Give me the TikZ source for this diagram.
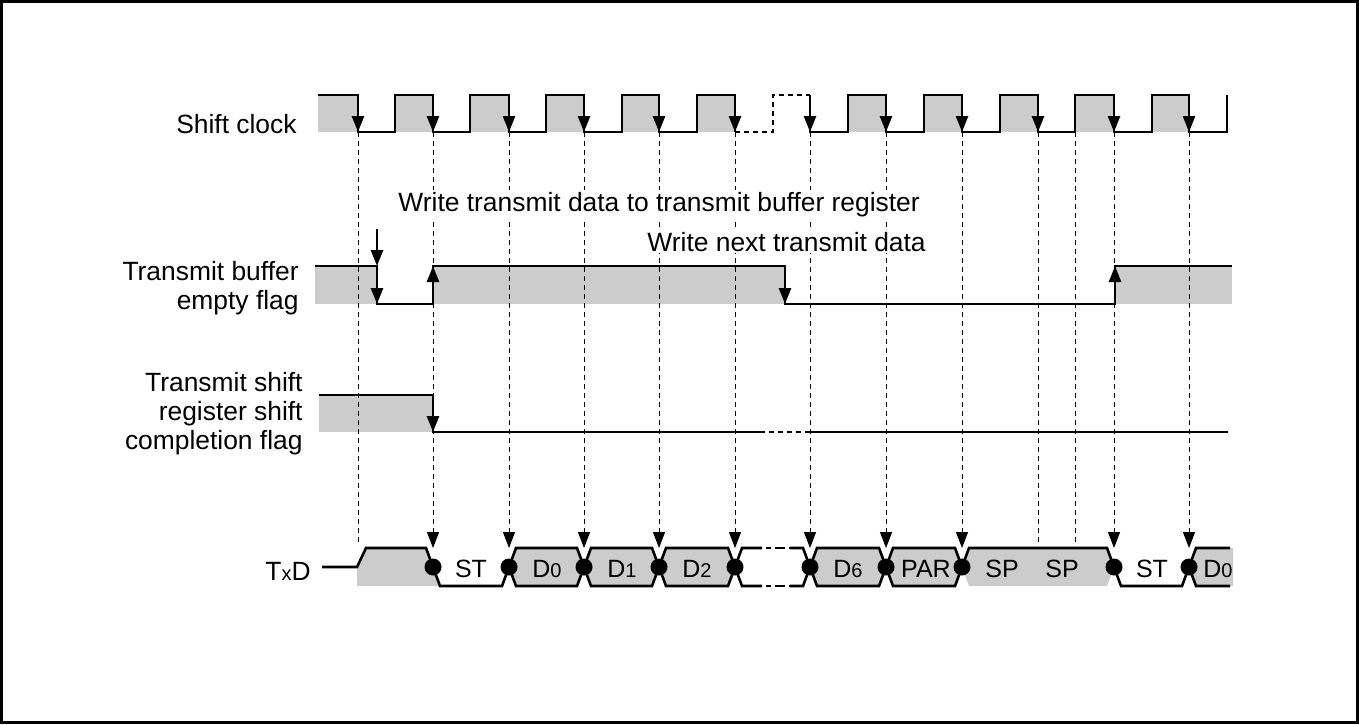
\documentclass[tikz,border=0pt]{standalone}
\usepackage{fontspec}
\setmainfont{Liberation Sans}
\usepackage{xcolor}
\definecolor{sigFill}{gray}{0.80}
\usepackage{tikz}
\usetikzlibrary{arrows.meta}
\newcommand{\bitno}[1]{{\fontsize{10}{12}\selectfont #1}}

\begin{document}
\begin{tikzpicture}[x=0.5pt, y=-0.5pt, >={Triangle[width=6pt,length=8pt]},
  sig/.style={line width=1.3pt},
  brk/.style={line width=1.3pt, dash pattern=on 2.5pt off 2pt},
  guide/.style={line width=0.5pt, dash pattern=on 2.5pt off 2pt},
  lbl/.style={font=\fontsize{13.2}{14.5}\selectfont, align=right, inner sep=0pt},
  note/.style={font=\fontsize{13.2}{14.5}\selectfont, fill=white, inner sep=1pt, anchor=base west},
  bitlbl/.style={font=\fontsize{12.5}{14}\selectfont, inner sep=0pt, anchor=base}]
  \useasboundingbox (0,0) rectangle (1359,724);
  \draw[line width=1.5pt] (1.5,1.5) rectangle (1357.5,722.5);

  % ---- gray levels ----
  \foreach \r/\f in {318/358,395/433,470/509,546/584,622/659,697/735,848/886,924/962,1000/1038,1075/1114,1152/1189}
    \fill[sigFill] (\r,95) rectangle (\f,132);
  \fill[sigFill] (315,266) rectangle (377,304);
  \fill[sigFill] (433,266) rectangle (785,304);
  \fill[sigFill] (1115,266) rectangle (1232,304);
  \fill[sigFill] (319,395) rectangle (433,432);
  \fill[sigFill] (357,586) -- (357,567) -- (366,548) -- (426,548) -- (440,586) -- cycle;
  \foreach \ba/\en in {509/584,584/659,659/735,810/886,886/962}
    \fill[sigFill] (\ba,567) -- (\ba+7,548) -- (\en-7,548) -- (\en,567) -- (\en-7,586) -- (\ba+7,586) -- cycle;
  \fill[sigFill] (962,567) -- (969,548) -- (1107,548) -- (1114,567) -- (1107,586) -- (969,586) -- cycle;
  \fill[sigFill] (1189,567) -- (1196,548) -- (1233,548) -- (1233,586) -- (1196,586) -- cycle;

  % ---- timing guides ----
  \foreach \x in {433,509,584,659,735,810,886,962,1114,1189}
    \draw[guide,->] (\x,132) -- (\x,548);
  \foreach \x in {358,1038,1075}
    \draw[guide] (\x,132) -- (\x,545);

  % ---- shift clock ----
  \draw[sig] (318,95) -| (358,132) -| (395,95) -| (433,132) -| (470,95) -| (509,132) -| (546,95)
    -| (584,132) -| (622,95) -| (659,132) -| (697,95) -| (735,132);
  \draw[brk] (735,132) -| (773,95) -- (810,95);
  \draw[sig] (810,95) -- (810,132) -| (848,95) -| (886,132) -| (924,95) -| (962,132) -| (1000,95)
    -| (1038,132) -| (1075,95) -| (1114,132) -| (1152,95) -| (1189,132) -| (1227,95);
  \foreach \f in {358,433,509,584,659,735,810,886,962,1038,1114,1189}
    \draw[sig,->] (\f,95) -- (\f,132);

  % ---- transmit buffer empty flag ----
  \draw[sig] (315,266) -| (377,304) -| (433,266) -| (785,304) -| (1115,266) -- (1232,266);
  \foreach \x/\ya/\yb in {377/266/304, 433/304/266, 785/266/304, 1115/304/266}
    \draw[sig,->] (\x,\ya) -- (\x,\yb);
  \draw[sig,->] (377,229) -- (377,266);

  % ---- transmit shift register shift completion flag ----
  \draw[sig] (319,395) -| (433,432) -- (760,432);
  \draw[sig,->] (433,395) -- (433,432);
  \draw[brk] (760,432) -- (805,432);
  \draw[sig] (805,432) -- (1228,432);

  % ---- TxD ----
  \draw[sig] (322,567) -- (357,567) -- (366,548) -- (426,548) -- (440,586) -- (502,586) -- (509,567);
  \foreach \ba/\en in {509/584,584/659,659/735,810/886,886/962}
    \draw[sig] (\ba,567) -- (\ba+7,548) -- (\en-7,548) -- (\en,567) -- (\en-7,586) -- (\ba+7,586) -- cycle;
  \foreach \y in {548,586} {
    \draw[sig] (762,\y) -- (742,\y) -- (735,567);
    \draw[sig] (790,\y) -- (803,\y) -- (810,567);
    \draw[sig, dash pattern=on 0pt off 2pt on 2.5pt off 2pt on 5pt off 2pt on 1pt] (762,\y) -- (790,\y);
  }
  \draw[sig] (962,567) -- (969,548) -- (1107,548) -- (1121,586) -- (1182,586) -- (1189,567);
  \draw[sig] (1230,548) -- (1196,548) -- (1189,567) -- (1196,586) -- (1230,586);
  \foreach \x in {433,509,584,659,735,810,886,962,1114,1189}
    \fill (\x,567) circle (8.5);

  % ---- labels ----
  \node[lbl, anchor=base east] (clk) at (297,133) {Shift clock};
  \node[lbl, anchor=east] (tbe) at (299,288) {Transmit buffer\\empty flag};
  \node[lbl, anchor=east] (tsr) at (303,414) {Transmit shift\\register shift\\completion flag};
  \node[lbl, anchor=base east] (txd) at (311,580) {T{\fontsize{10}{12}\selectfont x}D};
  \node[note] (wr1) at (396,211) {Write transmit data to transmit buffer register};
  \node[note] (wr2) at (645,251) {Write next transmit data};
  \foreach \x/\txt in {471/ST, 547/D\bitno{0}, 622/D\bitno{1}, 697/D\bitno{2}, 848/D\bitno{6},
                       926/PAR, 1002/SP, 1062/SP, 1152/ST, 1218/D\bitno{0}}
    \node[bitlbl] (bit\x) at (\x,577) {\txt};
\end{tikzpicture}
\end{document}
